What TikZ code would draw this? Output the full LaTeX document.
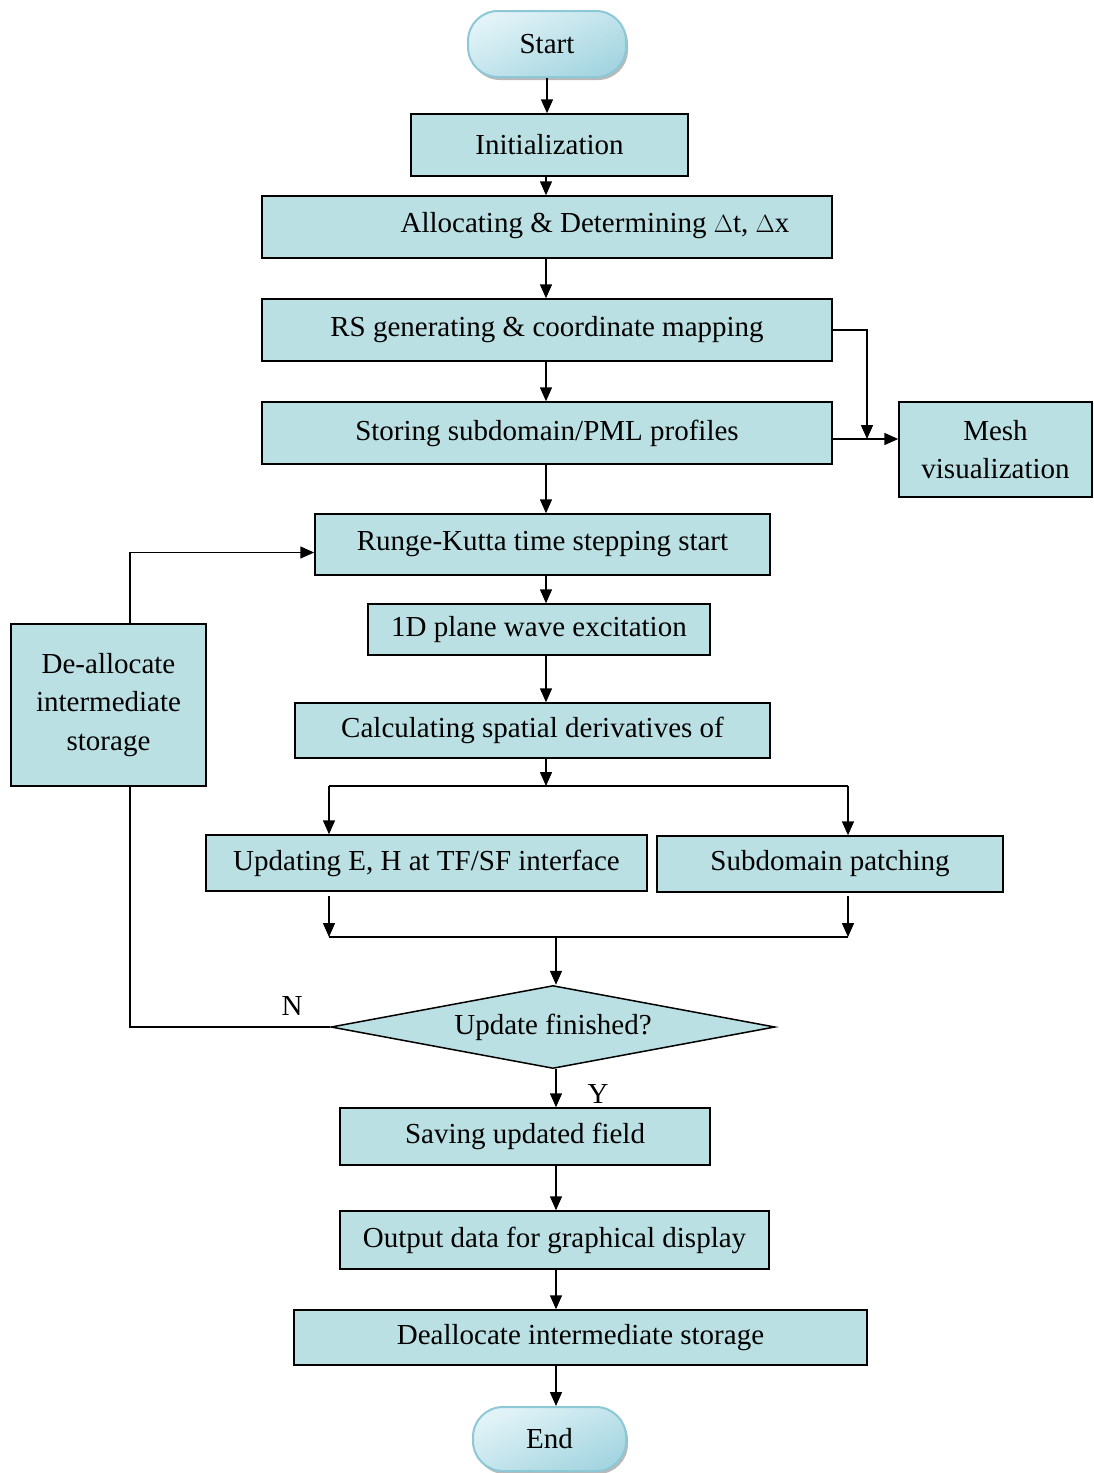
\documentclass[tikz,border=0pt]{standalone}
\usepackage{fontspec}
\setmainfont{Liberation Serif}
\usetikzlibrary{arrows.meta,shapes.geometric,shadows,calc}
\definecolor{boxfill}{HTML}{BBE0E3}
\definecolor{termL}{HTML}{E2F3F7}
\definecolor{termD}{HTML}{A4D5E0}
\definecolor{termB}{HTML}{8CC8D6}
\tikzset{
  box/.style={draw=black, line width=1.5pt, fill=boxfill, rectangle, inner sep=2pt,
    font=\fontsize{29}{38.5}\selectfont, align=center},
  term/.style={draw=termB, line width=2pt, rectangle, rounded corners=30pt,
    top color=termL, bottom color=termD, shading angle=25,
    drop shadow={shadow xshift=2pt, shadow yshift=-3pt, fill=black!55},
    font=\fontsize{29}{38}\selectfont, inner sep=0pt},
  dec/.style={draw=black, line width=1.5pt, fill=boxfill, diamond, aspect=5.35,
    inner sep=0pt, font=\fontsize{29}{38}\selectfont},
  lbl/.style={font=\fontsize{29}{38}\selectfont, inner sep=0pt},
  arr/.style={line width=1.5pt, -{Triangle[length=14pt,width=12pt]}},
  ln/.style={line width=1.5pt}
}
\begin{document}
\begin{tikzpicture}[x=1pt,y=-1pt]
\useasboundingbox (0,0) rectangle (1093,1473);
% nodes
\node[term, minimum width=158pt, minimum height=66pt] (start) at (547,44) {Start};
\node[box, minimum width=277pt, minimum height=62pt] (init) at (549.5,145) {Initialization};
\node[box, minimum width=570pt, minimum height=62pt] (alloc) at (547,227) {};
\node[lbl] (alloctext) at (595,226) {Allocating \& Determining $\Delta$t, $\Delta$x};
\node[box, minimum width=570pt, minimum height=62pt] (rs) at (547,330) {RS generating \& coordinate mapping};
\node[box, minimum width=570pt, minimum height=62pt] (store) at (547,433) {Storing subdomain/PML profiles};
\node[box, minimum width=193pt, minimum height=95pt] (mesh) at (995.5,449.5) {Mesh\\visualization};
\node[box, minimum width=455pt, minimum height=61pt] (rk) at (542.5,544.5) {Runge-Kutta time stepping start};
\node[box, minimum width=342pt, minimum height=51pt] (pw) at (539,629.5) {1D plane wave excitation};
\node[box, minimum width=475pt, minimum height=55pt] (calc) at (532.5,730.5) {Calculating spatial derivatives of};
\node[box, minimum width=441pt, minimum height=56pt] (upd) at (426.5,863) {Updating E, H at TF/SF interface};
\node[box, minimum width=346pt, minimum height=56pt] (sub) at (830,864) {Subdomain patching};
\node[dec, minimum width=444pt, minimum height=83pt] (fin) at (553,1027) {Update finished?};
\node[box, minimum width=370pt, minimum height=57pt] (save) at (525,1136.5) {Saving updated field};
\node[box, minimum width=429pt, minimum height=58pt] (out) at (554.5,1240) {Output data for graphical display};
\node[box, minimum width=573pt, minimum height=55pt] (dealloc) at (580.5,1337.5) {Deallocate intermediate storage};
\node[term, minimum width=153pt, minimum height=64pt] (end) at (549.5,1439) {End};
\node[box, minimum width=195pt, minimum height=162pt] (deal) at (108.5,705) {De-allocate\\intermediate\\storage};
\node[lbl] (nlab) at (292,1006) {N};
\node[lbl] (ylab) at (598,1094) {Y};
% helper coordinates
\coordinate (mj) at (867,439);
\coordinate (sp) at (546,786);
\coordinate (sL) at (329,786);
\coordinate (sR) at (848,786);
\coordinate (mLt) at (329,896);
\coordinate (mRt) at (848,896);
\coordinate (mL) at (329,937);
\coordinate (mR) at (848,937);
\coordinate (loopB) at (130,786);
\coordinate (loopT) at (130,624);
\coordinate (colB) at (556,0);
% connectors
\draw[arr] (start.south) -- (start.south |- init.north);
\draw[arr] (init.south -| sp) -- (alloc.north -| sp);
\draw[arr] (alloc.south -| sp) -- (rs.north -| sp);
\draw[arr] (rs.south -| sp) -- (store.north -| sp);
\draw[arr] (store.south -| sp) -- (rk.north -| sp);
\draw[arr] (rk.south -| sp) -- (pw.north -| sp);
\draw[arr] (pw.south -| sp) -- (calc.north -| sp);
\draw[arr] (calc.south -| sp) -- (sp);
\draw[arr] (rs.east) -| (mj);
\draw[ln] (store.east |- mj) -- (mj);
\draw[arr] (mj) -- (mj -| mesh.west);
\draw[ln] (sL) -- (sR);
\draw[arr] (sL) -- (sL |- upd.north);
\draw[arr] (sR) -- (sR |- sub.north);
\draw[arr] (mLt) -- (mL);
\draw[arr] (mRt) -- (mR);
\draw[ln] (mL) -- (mR);
\draw[arr] (mL -| colB) -- (fin.north -| colB);
\draw[arr] (fin.south -| colB) -- (save.north -| colB);
\draw[arr] (save.south -| colB) -- (out.north -| colB);
\draw[arr] (out.south -| colB) -- (dealloc.north -| colB);
\draw[arr] (dealloc.south -| colB) -- (end.north -| colB);
\draw[ln] (fin.west) -| (loopB);
\draw[arr] (loopT) |- ($(rk.west)+(0,8)$);
\end{tikzpicture}
\end{document}
